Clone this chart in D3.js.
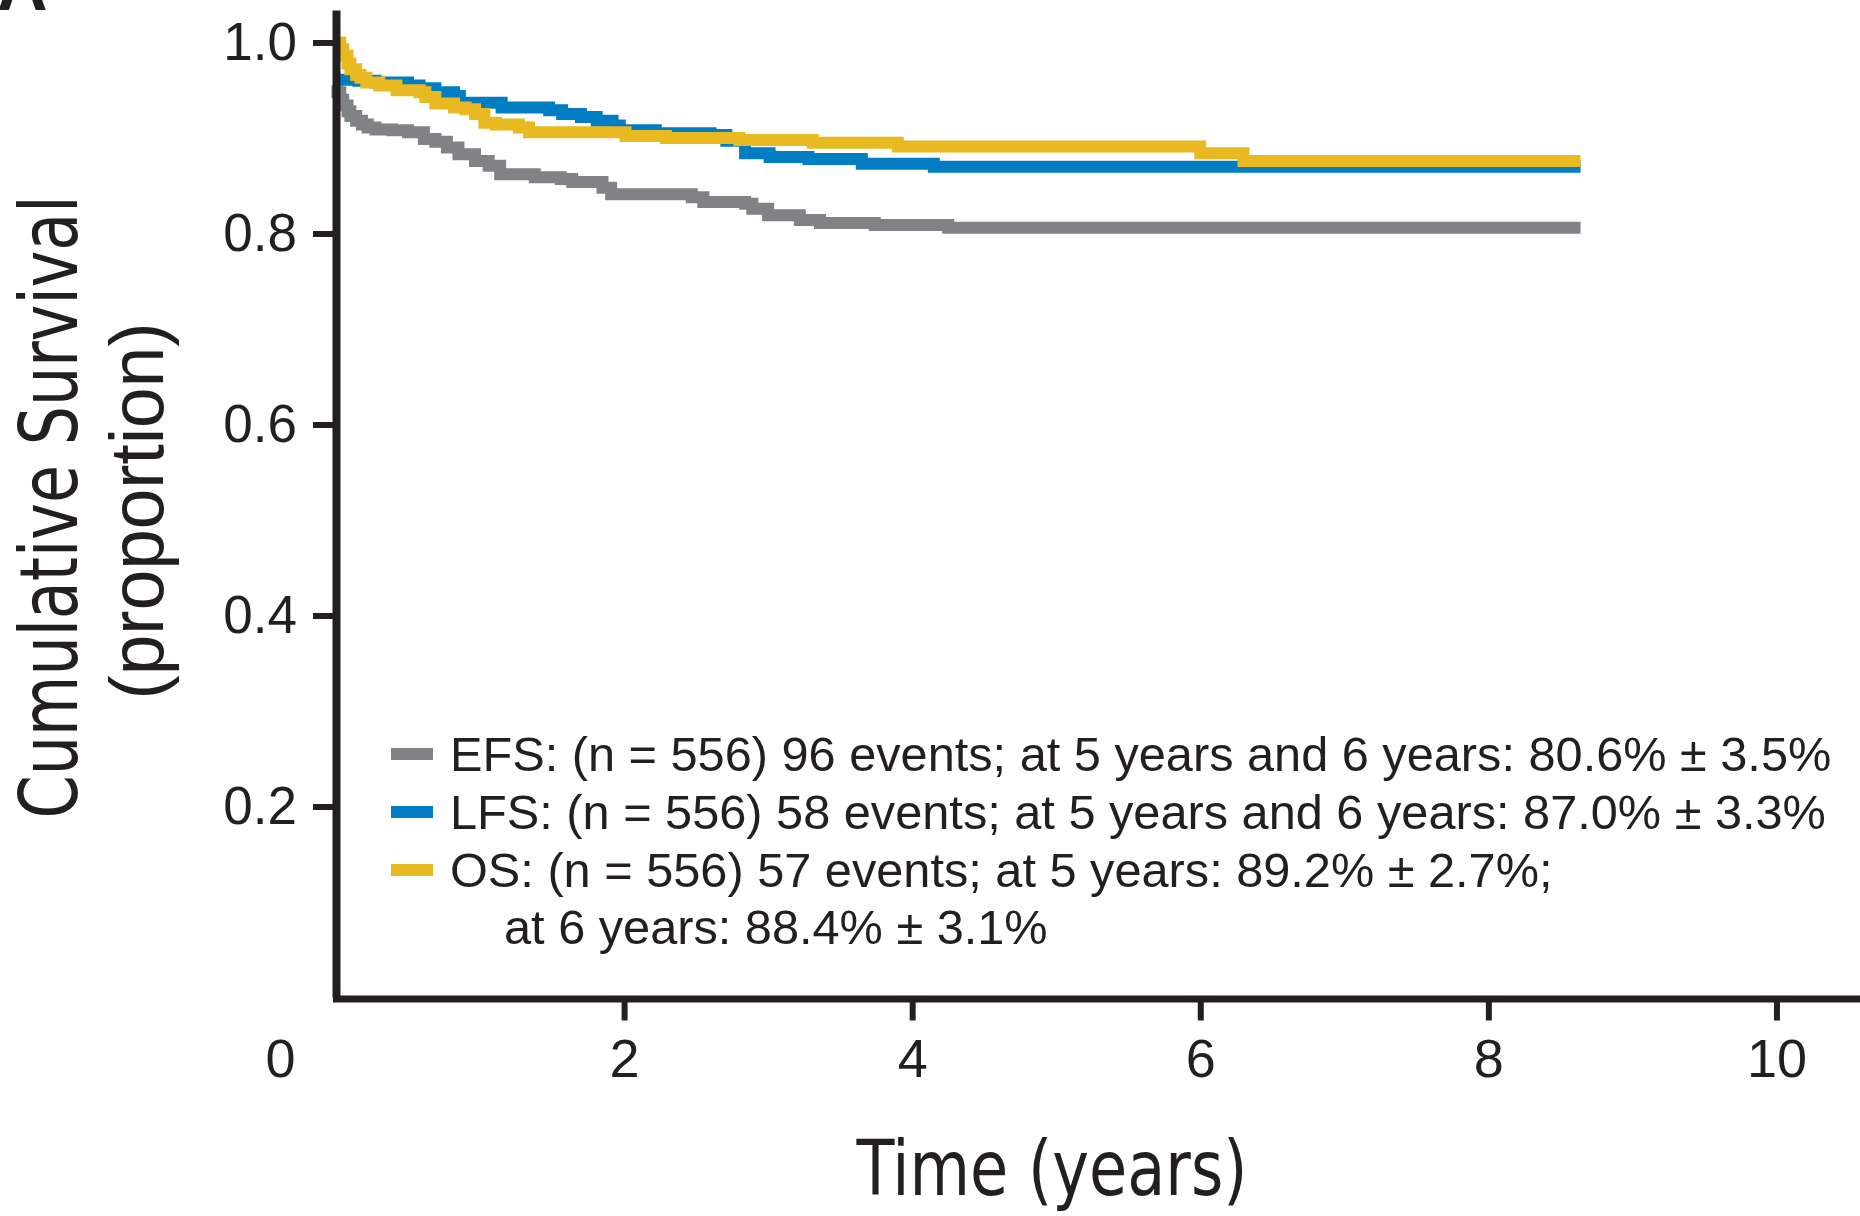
<!DOCTYPE html>
<html>
<head>
<meta charset="utf-8">
<script src="https://cdn.jsdelivr.net/npm/d3@7"></script>
<style>
  body { margin: 0; background: #fff; }
  svg { display: block; }
  text { font-family: "Liberation Sans", Arial, sans-serif; fill: #231f20; }
  .narrow { font-family: "Liberation Sans Narrow", "DejaVu Sans Condensed", "Liberation Sans", sans-serif; }
</style>
</head>
<body>
<div id="chart"></div>
<script>
// Kaplan-Meier steps (time in years, survival proportion)
var efsTime = [0, 0.01, 0.03, 0.05, 0.08, 0.10, 0.14, 0.18, 0.22, 0.275, 0.39, 0.50, 0.61, 0.69, 0.77, 0.85, 0.965, 1.06, 1.14, 1.38, 1.56, 1.64, 1.85, 1.91, 2.47, 2.55, 2.84, 2.89, 3.00, 3.22, 3.36, 3.74, 4.25, 8.64]
var efsSurv = [0.955, 0.948, 0.940, 0.934, 0.928, 0.923, 0.918, 0.914, 0.911, 0.909, 0.908, 0.906, 0.899, 0.896, 0.890, 0.883, 0.876, 0.871, 0.862, 0.859, 0.857, 0.854, 0.848, 0.841, 0.838, 0.833, 0.831, 0.826, 0.819, 0.814, 0.811, 0.809, 0.806, 0.806]

var lfsTime = [0, 0.155, 0.275, 0.50, 0.58, 0.69, 0.82, 0.86, 1.15, 1.48, 1.57, 1.70, 1.81, 1.92, 1.97, 2.22, 2.60, 2.71, 2.84, 3.01, 3.28, 3.65, 4.15, 8.64]
var lfsSurv = [0.961, 0.960, 0.958, 0.955, 0.952, 0.948, 0.944, 0.937, 0.932, 0.929, 0.925, 0.922, 0.918, 0.913, 0.908, 0.905, 0.903, 0.897, 0.884, 0.880, 0.878, 0.873, 0.870, 0.870]

var osTime = [0, 0.03, 0.05, 0.08, 0.10, 0.14, 0.17, 0.21, 0.30, 0.42, 0.58, 0.62, 0.69, 0.82, 0.90, 0.965, 1.03, 1.11, 1.27, 1.34, 2.01, 2.29, 2.80, 3.31, 3.90, 6.00, 6.30, 8.64]
var osSurv = [1.000, 0.993, 0.986, 0.978, 0.972, 0.966, 0.963, 0.958, 0.955, 0.950, 0.948, 0.943, 0.936, 0.932, 0.930, 0.925, 0.916, 0.914, 0.911, 0.906, 0.902, 0.900, 0.898, 0.895, 0.891, 0.884, 0.876, 0.876]

var seriesNames = ['EFS', 'LFS', 'OS']
var seriesColors = ['#808285', '#007dc3', '#e8b920']
var legendLines = [
  ['EFS: (n = 556) 96 events; at 5 years and 6 years: 80.6% \u00b1 3.5%'],
  ['LFS: (n = 556) 58 events; at 5 years and 6 years: 87.0% \u00b1 3.3%'],
  ['OS: (n = 556) 57 events; at 5 years: 89.2% \u00b1 2.7%;', 'at 6 years: 88.4% \u00b1 3.1%']
]

var yTicks = [0.2, 0.4, 0.6, 0.8, 1.0]
var xTicks = [0, 2, 4, 6, 8, 10]

var width = 1860, height = 1216

var svg = d3.select('#chart').append('svg')
  .attr('width', width).attr('height', height)

var x = d3.scaleLinear().domain([0, 10.58]).range([336, 1860])
var y = d3.scaleLinear().domain([0, 1.034]).range([997.5, 10])

var series = [
  {name: 'EFS', t: efsTime, s: efsSurv},
  {name: 'LFS', t: lfsTime, s: lfsSurv},
  {name: 'OS', t: osTime, s: osSurv}
]

var line = d3.line()
  .x(function(d){ return x(d[0]) })
  .y(function(d){ return y(d[1]) })
  .curve(d3.curveStepAfter)

svg.append('g').selectAll('path')
  .data(series)
  .join('path')
  .attr('d', function(d){ return line(d3.zip(d.t, d.s)) })
  .attr('fill', 'none')
  .attr('stroke', function(d){ return seriesColors[seriesNames.indexOf(d.name)] })
  .attr('stroke-width', 12)

// y axis
var yAxis = svg.append('g')
  .attr('transform', 'translate(' + x(0) + ',0)')
  .call(d3.axisLeft(y).tickValues(yTicks).tickFormat(d3.format('.1f'))
    .tickSizeInner(23).tickSizeOuter(0).tickPadding(16))
yAxis.select('.domain').attr('stroke', '#231f20').attr('stroke-width', 8)
yAxis.selectAll('.tick line').attr('stroke', '#231f20').attr('stroke-width', 6)
yAxis.selectAll('.tick text').attr('font-size', 53).attr('fill', '#231f20')
  .style('font-family', '"Liberation Sans", Arial, sans-serif')

// x axis
var xAxis = svg.append('g')
  .attr('transform', 'translate(0,998.5)')
  .call(d3.axisBottom(x).tickValues(xTicks).tickFormat(d3.format('d'))
    .tickSizeInner(22).tickSizeOuter(0).tickPadding(18))
xAxis.select('.domain').attr('stroke', '#231f20').attr('stroke-width', 7)
  .attr('stroke-linecap', 'square')
xAxis.selectAll('.tick line').attr('stroke', '#231f20').attr('stroke-width', 6)
  .attr('display', function(d){ return d === 0 ? 'none' : null })
xAxis.selectAll('.tick text').attr('font-size', 54).attr('fill', '#231f20')
  .style('font-family', '"Liberation Sans", Arial, sans-serif')
  .attr('dx', function(d){ return d === 0 ? -56 : 0 })

// axis titles
svg.append('text')
  .attr('class', 'narrow')
  .attr('transform', 'translate(77,507) rotate(-90)')
  .attr('text-anchor', 'middle')
  .attr('font-size', 80)
  .attr('textLength', 623).attr('lengthAdjust', 'spacingAndGlyphs')
  .text('Cumulative Survival')

svg.append('text')
  .attr('transform', 'translate(163,511) rotate(-90)')
  .attr('text-anchor', 'middle')
  .attr('font-size', 76)
  .attr('textLength', 377).attr('lengthAdjust', 'spacingAndGlyphs')
  .text('(proportion)')

svg.append('text')
  .attr('class', 'narrow')
  .attr('x', 1052).attr('y', 1195)
  .attr('text-anchor', 'middle')
  .attr('font-size', 76)
  .attr('textLength', 391).attr('lengthAdjust', 'spacingAndGlyphs')
  .text('Time (years)')

// panel letter, cut off at the top edge
svg.append('text')
  .attr('x', -3).attr('y', 10)
  .attr('font-size', 70).attr('font-weight', 'bold')
  .text('A')

// legend
var legend = svg.append('g').attr('transform', 'translate(391,771)')
var rows = legend.selectAll('g').data(legendLines).join('g')
  .attr('transform', function(d, i){ return 'translate(0,' + (i * 58) + ')' })
rows.append('rect')
  .attr('x', 0).attr('y', -23).attr('width', 42).attr('height', 12)
  .attr('fill', function(d, i){ return seriesColors[i] })
rows.each(function(d){
  var g = d3.select(this)
  d.forEach(function(txt, j){
    g.append('text')
      .attr('x', j === 0 ? 59 : 113)
      .attr('y', j * 57)
      .attr('font-size', 48.7)
      .text(txt)
  })
})
</script>
</body>
</html>
